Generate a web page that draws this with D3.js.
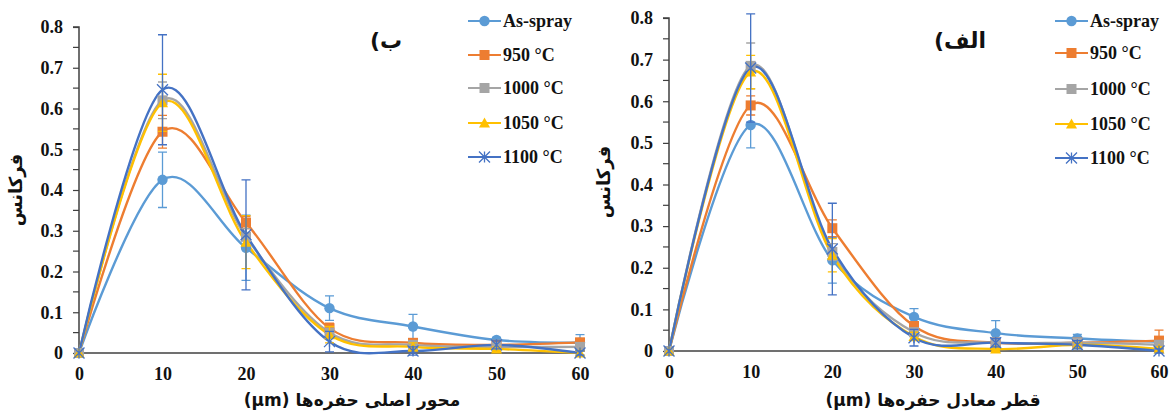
<!DOCTYPE html>
<html>
<head>
<meta charset="utf-8">
<script src="https://cdn.jsdelivr.net/npm/d3@7"></script>
<style>
  html, body { margin: 0; padding: 0; background: #fff; }
  svg { display: block; }
</style>
</head>
<body>
<svg id="chart" width="1174" height="416"></svg>
<script>
// ---------- DATA ----------
const xValues = [0, 10, 20, 30, 40, 50, 60];
const xTicks = [0, 10, 20, 30, 40, 50, 60];
const yTicks = [0, 0.1, 0.2, 0.3, 0.4, 0.5, 0.6, 0.7, 0.8];
const yTickLabels = ["0", "0.1", "0.2", "0.3", "0.4", "0.5", "0.6", "0.7", "0.8"];
const seriesNames = ["As-spray", "950 °C", "1000 °C", "1050 °C", "1100 °C"];
const seriesColors = ["#5B9BD5", "#ED7D31", "#A5A5A5", "#FFC000", "#4472C4"];
const seriesMarkers = ["circle", "square", "square", "triangle", "star"];

// Left panel (ب) – major axis of pores
const majorAsSpray = [0, 0.425, 0.258, 0.11, 0.065, 0.032, 0.025];
const major950     = [0, 0.543, 0.32, 0.061, 0.025, 0.02, 0.026];
const major1000    = [0, 0.62, 0.285, 0.05, 0.02, 0.015, 0.015];
const major1050    = [0, 0.614, 0.272, 0.045, 0.015, 0.01, 0.0];
const major1100    = [0, 0.646, 0.29, 0.028, 0.005, 0.02, 0.0];
const majorErrAsSpray = [0, 0.068, 0.08, 0.03, 0.03, 0.006, 0.02];
const majorErr950     = [0, 0.04, 0.015, 0.012, 0.01, 0.006, 0.01];
const majorErr1000    = [0, 0.045, 0.02, 0.01, 0.01, 0.005, 0.005];
const majorErr1050    = [0, 0.07, 0.065, 0.02, 0.01, 0.005, 0.005];
const majorErr1100    = [0, 0.135, 0.135, 0.025, 0.01, 0.01, 0.005];

// Right panel (الف) – equivalent diameter of pores
const equivAsSpray = [0, 0.543, 0.218, 0.082, 0.043, 0.03, 0.022];
const equiv950     = [0, 0.59, 0.295, 0.06, 0.02, 0.02, 0.025];
const equiv1000    = [0, 0.685, 0.238, 0.045, 0.02, 0.02, 0.015];
const equiv1050    = [0, 0.67, 0.23, 0.035, 0.005, 0.015, 0.005];
const equiv1100    = [0, 0.68, 0.245, 0.032, 0.02, 0.015, 0.0];
const equivErrAsSpray = [0, 0.055, 0.055, 0.02, 0.03, 0.01, 0.01];
const equivErr950     = [0, 0.023, 0.02, 0.01, 0.01, 0.01, 0.025];
const equivErr1000    = [0, 0.055, 0.02, 0.01, 0.01, 0.01, 0.01];
const equivErr1050    = [0, 0.04, 0.04, 0.01, 0.005, 0.005, 0.005];
const equivErr1100    = [0, 0.13, 0.11, 0.02, 0.01, 0.01, 0.005];

const yAxisTitle = "فرکانس";
const leftXTitle = "محور اصلی حفره‌ها (μm)";
const rightXTitle = "قطر معادل حفره‌ها (μm)";
const leftPanelTag = "ب)";
const rightPanelTag = "الف)";

// ---------- DRAWING ----------
const svg = d3.select("#chart");
const numFont = "'Liberation Serif', 'Times New Roman', serif";
const faFont = "'DejaVu Sans', 'Liberation Serif', sans-serif";

function drawMarker(g, type, cx, cy, color, s) {
  if (type === "circle") {
    g.append("circle").attr("cx", cx).attr("cy", cy).attr("r", s * 0.52).attr("fill", color);
  } else if (type === "square") {
    g.append("rect").attr("x", cx - s / 2).attr("y", cy - s / 2).attr("width", s).attr("height", s).attr("fill", color);
  } else if (type === "triangle") {
    const h = s;
    g.append("path").attr("d", `M${cx},${cy - h * 0.55}L${cx + h * 0.55},${cy + h * 0.45}L${cx - h * 0.55},${cy + h * 0.45}Z`).attr("fill", color);
  } else if (type === "star") {
    const r = s * 0.55;
    g.append("path")
      .attr("d", `M${cx - r},${cy - r}L${cx + r},${cy + r}M${cx - r},${cy + r}L${cx + r},${cy - r}M${cx},${cy - r}L${cx},${cy + r}`)
      .attr("stroke", color).attr("stroke-width", 1.3).attr("fill", "none");
  }
}

function drawPanel(cfg) {
  const x = d3.scaleLinear().domain([0, 60]).range([cfg.x0, cfg.x1]);
  const y = d3.scaleLinear().domain([0, 0.8]).range([cfg.y0, cfg.y1]);
  const g = svg.append("g");

  // y axis
  const yAxis = d3.axisLeft(y).tickValues(yTicks).tickFormat((d, i) => yTickLabels[i]).tickSize(6).tickPadding(10);
  const ya = g.append("g").attr("transform", `translate(${cfg.x0},0)`).call(yAxis);
  ya.select(".domain").attr("stroke", "#404040").attr("stroke-width", 1.5).attr("d", `M-6,${y(0.8)}H0V${y(0)}`);
  ya.selectAll(".tick line").attr("stroke", "#404040").attr("stroke-width", 1.2);
  ya.selectAll(".tick text").attr("font-family", numFont).attr("font-weight", "bold").attr("font-size", 18).attr("fill", "#111");
  // minor ticks
  const minor = d3.range(0.05, 0.8, 0.1);
  g.selectAll(".minor").data(minor).enter().append("line")
    .attr("x1", cfg.x0 - 6).attr("x2", cfg.x0).attr("y1", d => y(d)).attr("y2", d => y(d))
    .attr("stroke", "#404040").attr("stroke-width", 1.2);

  // x axis
  const xAxis = d3.axisBottom(x).tickValues(xTicks).tickSize(0).tickPadding(14);
  const xa = g.append("g").attr("transform", `translate(0,${cfg.y0})`).call(xAxis);
  xa.select(".domain").attr("stroke", "#404040").attr("stroke-width", 1.5).attr("d", `M${cfg.x0},0H${cfg.x1 + 2}`);
  xa.selectAll(".tick text").attr("font-family", numFont).attr("font-weight", "bold").attr("font-size", 18).attr("fill", "#111");

  const line = d3.line().x(d => x(d.x)).y(d => y(d.y)).curve(d3.curveCatmullRom.alpha(0));

  cfg.series.forEach((vals, si) => {
    const color = seriesColors[si];
    const pts = xValues.map((xv, i) => ({ x: xv, y: vals[i], e: cfg.errors[si][i] }));
    g.append("path").datum(pts).attr("d", line).attr("fill", "none").attr("stroke", color).attr("stroke-width", 2.4);
  });
  cfg.series.forEach((vals, si) => {
    const color = seriesColors[si];
    const pts = xValues.map((xv, i) => ({ x: xv, y: vals[i], e: cfg.errors[si][i] }));
    const eg = g.append("g");
    pts.filter(p => p.e > 0).forEach(p => {
      const cx = x(p.x), top = y(p.y + p.e), bot = y(p.y - p.e);
      eg.append("path").attr("d", `M${cx},${top}V${bot}M${cx - 4.5},${top}H${cx + 4.5}M${cx - 4.5},${bot}H${cx + 4.5}`)
        .attr("stroke", color).attr("stroke-width", 1.3).attr("fill", "none");
    });
    const mg = g.append("g");
    pts.forEach(p => drawMarker(mg, seriesMarkers[si], x(p.x), y(p.y), color, 10));
  });

  // axis titles
  g.append("text").attr("x", cfg.xTitleX).attr("y", 406)
    .attr("text-anchor", "middle").attr("direction", "rtl")
    .attr("font-family", faFont).attr("font-weight", "bold").attr("font-size", 17).attr("fill", "#111")
    .text(cfg.xTitle);
  g.append("text").attr("transform", `translate(${cfg.yTitleX},${cfg.yTitleY}) rotate(-90)`)
    .attr("text-anchor", "middle").attr("direction", "rtl")
    .attr("font-family", faFont).attr("font-weight", "bold").attr("font-size", 18).attr("fill", "#111")
    .text(yAxisTitle);

  // panel tag
  g.append("text").attr("x", cfg.tagX).attr("y", 48).attr("text-anchor", "middle").attr("direction", "rtl")
    .attr("font-family", faFont).attr("font-weight", "bold").attr("font-size", 22).attr("fill", "#111")
    .text(cfg.tag);

  // legend
  const lg = g.append("g");
  seriesNames.forEach((name, si) => {
    const ly = cfg.legendY[si];
    lg.append("line").attr("x1", cfg.legendX).attr("x2", cfg.legendX + 33).attr("y1", ly).attr("y2", ly)
      .attr("stroke", seriesColors[si]).attr("stroke-width", 2.2);
    drawMarker(lg, seriesMarkers[si], cfg.legendX + 16.5, ly, seriesColors[si], 10);
    lg.append("text").attr("x", cfg.legendX + 35).attr("y", ly + 6)
      .attr("font-family", numFont).attr("font-weight", "bold").attr("font-size", 18).attr("fill", "#111")
      .text(name);
  });
}

drawPanel({
  x0: 79, x1: 580, y0: 353, y1: 27,
  series: [majorAsSpray, major950, major1000, major1050, major1100],
  errors: [majorErrAsSpray, majorErr950, majorErr1000, majorErr1050, majorErr1100],
  xTitle: leftXTitle, xTitleX: 352, yTitleX: 22, yTitleY: 190,
  tag: leftPanelTag, tagX: 386,
  legendX: 468, legendY: [21, 55, 88, 123, 157]
});

drawPanel({
  x0: 669, x1: 1159, y0: 351, y1: 18,
  series: [equivAsSpray, equiv950, equiv1000, equiv1050, equiv1100],
  errors: [equivErrAsSpray, equivErr950, equivErr1000, equivErr1050, equivErr1100],
  xTitle: rightXTitle, xTitleX: 933, yTitleX: 610, yTitleY: 182,
  tag: rightPanelTag, tagX: 960,
  legendX: 1055, legendY: [21, 53, 89, 124, 158]
});
</script>
</body>
</html>
